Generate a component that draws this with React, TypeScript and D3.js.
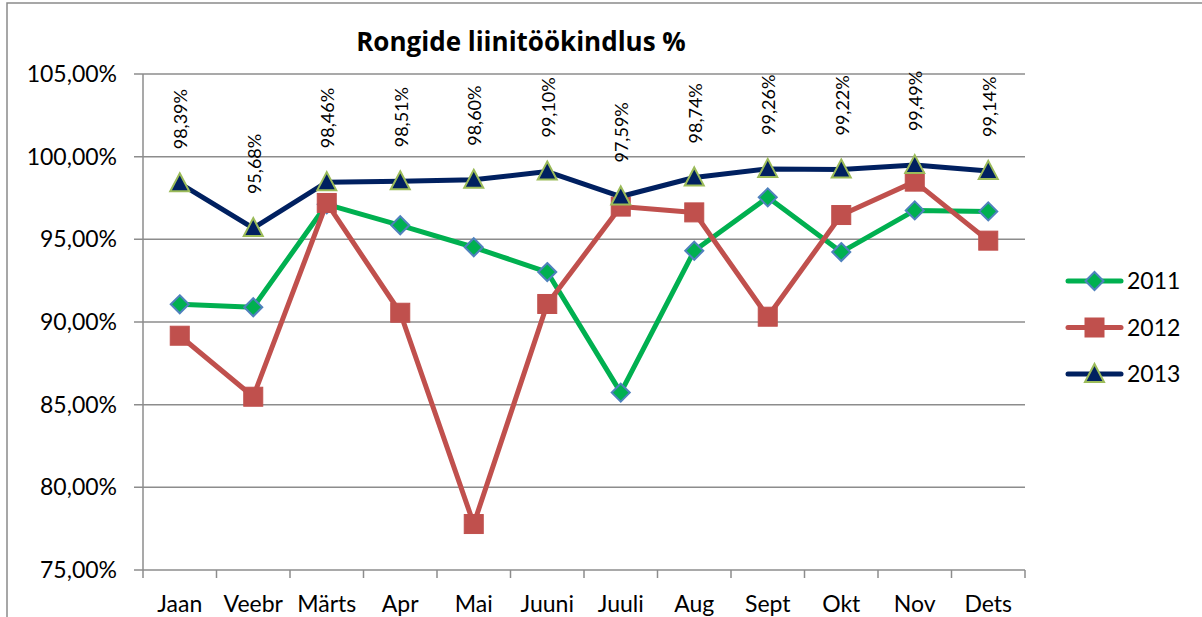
import React, { useEffect, useRef } from "react";
import * as d3 from "d3";

const months = ["Jaan", "Veebr", "Märts", "Apr", "Mai", "Juuni", "Juuli", "Aug", "Sept", "Okt", "Nov", "Dets"];
const values2011 = [91.07, 90.89, 97.12, 95.85, 94.52, 93.02, 85.73, 94.31, 97.54, 94.23, 96.75, 96.69];
const values2012 = [89.17, 85.48, 97.2, 90.56, 77.78, 91.09, 96.98, 96.63, 90.32, 96.47, 98.49, 94.92];
const values2013 = [98.39, 95.68, 98.46, 98.51, 98.6, 99.1, 97.59, 98.74, 99.26, 99.22, 99.49, 99.14];
const yTicks = [75, 80, 85, 90, 95, 100, 105];
const seriesNames = ["2011", "2012", "2013"];
const title = "Rongide liinitöökindlus %";

const FONT = "Lato, 'Open Sans', sans-serif";

export default function App() {
  const ref = useRef<SVGSVGElement | null>(null);

  useEffect(() => {
    const svg = d3.select(ref.current);
    svg.selectAll("*").remove();

    const left = 143, right = 1025, top = 74, bottom = 570;
    const x = d3.scaleBand<string>().domain(months).range([left, right]).padding(0);
    const y = d3.scaleLinear().domain([75, 105]).range([bottom, top]);
    const cx = (m: string) => (x(m) as number) + x.bandwidth() / 2;
    const fmt = (v: number) => v.toFixed(2).replace(".", ",") + "%";

    // outer border
    svg.append("path").attr("d", "M7,620 L7,3 L1210,3").attr("fill", "none").attr("stroke", "#8a8a8a").attr("stroke-width", 1.5);

    // gridlines
    svg.append("g").selectAll("line").data(yTicks.slice(1)).join("line")
      .attr("x1", left - 9).attr("x2", right).attr("y1", d => y(d)).attr("y2", d => y(d))
      .attr("stroke", "#8c8c8c").attr("stroke-width", 1.5);
    // y axis
    svg.append("line").attr("x1", left).attr("x2", left).attr("y1", top).attr("y2", bottom)
      .attr("stroke", "#8c8c8c").attr("stroke-width", 1.5);
    svg.append("line").attr("x1", left - 9).attr("x2", right).attr("y1", bottom).attr("y2", bottom)
      .attr("stroke", "#8c8c8c").attr("stroke-width", 1.5);
    // x ticks
    const edges = months.map(m => x(m) as number).concat([right]);
    svg.append("g").selectAll("line").data(edges).join("line")
      .attr("x1", d => d).attr("x2", d => d).attr("y1", bottom).attr("y2", bottom + 8)
      .attr("stroke", "#8c8c8c").attr("stroke-width", 1.5);

    // y labels
    svg.append("g").selectAll("text").data(yTicks).join("text")
      .attr("x", 117).attr("y", d => y(d)).attr("dy", "0.35em").attr("text-anchor", "end")
      .attr("font-family", FONT).attr("font-size", 23).attr("fill", "#000")
      .text(d => d.toFixed(2).replace(".", ",") + "%");

    // x labels
    svg.append("g").selectAll("text").data(months).join("text")
      .attr("x", d => cx(d)).attr("y", 612).attr("text-anchor", "middle")
      .attr("font-family", FONT).attr("font-size", 23).attr("fill", "#000")
      .text(d => d);

    // title
    svg.append("text").attr("x", 521).attr("y", 51).attr("text-anchor", "middle")
      .attr("font-family", "'Open Sans', sans-serif").attr("font-weight", "bold").attr("font-size", 26).attr("fill", "#000")
      .text(title);

    const series = [
      { name: seriesNames[0], values: values2011, color: "#00B050", shape: "diamond" },
      { name: seriesNames[1], values: values2012, color: "#C0504D", shape: "square" },
      { name: seriesNames[2], values: values2013, color: "#002060", shape: "triangle" },
    ];

    const line = d3.line<number>().x((_, i) => cx(months[i])).y(d => y(d));

    const drawMarker = (g: any, shape: string, px: number, py: number) => {
      if (shape === "diamond") {
        g.append("path").attr("d", `M${px},${py - 9} L${px + 9},${py} L${px},${py + 9} L${px - 9},${py} Z`)
          .attr("fill", "#00B050").attr("stroke", "#4F81BD").attr("stroke-width", 2);
      } else if (shape === "square") {
        g.append("rect").attr("x", px - 9.5).attr("y", py - 9.5).attr("width", 19).attr("height", 19)
          .attr("fill", "#C0504D").attr("stroke", "#C0504D").attr("stroke-width", 1);
      } else {
        g.append("path").attr("d", `M${px},${py - 10} L${px + 9.5},${py + 8} L${px - 9.5},${py + 8} Z`)
          .attr("fill", "#002060").attr("stroke", "#9BBB59").attr("stroke-width", 2);
      }
    };

    series.forEach(s => {
      const g = svg.append("g");
      g.append("path").attr("d", line(s.values) as string).attr("fill", "none")
        .attr("stroke", s.color).attr("stroke-width", 5).attr("stroke-linejoin", "round");
      s.values.forEach((v, i) => drawMarker(g, s.shape, cx(months[i]), y(v)));
    });

    // data labels for 2013
    svg.append("g").selectAll("text").data(values2013).join("text")
      .attr("transform", (d, i) => `translate(${cx(months[i]) + 1},${y(d) - 34}) rotate(-90)`)
      .attr("dy", "0.35em").attr("text-anchor", "start")
      .attr("font-family", FONT).attr("font-size", 18).attr("fill", "#000")
      .text(d => fmt(d));

    // legend
    series.forEach((s, i) => {
      const ly = 281 + i * 46.5;
      const g = svg.append("g");
      g.append("line").attr("x1", 1068).attr("x2", 1121).attr("y1", ly).attr("y2", ly)
        .attr("stroke", s.color).attr("stroke-width", 5).attr("stroke-linecap", "round");
      drawMarker(g, s.shape, 1094.5, ly);
      g.append("text").attr("x", 1127).attr("y", ly).attr("dy", "0.35em")
        .attr("font-family", FONT).attr("font-size", 23).attr("fill", "#000").text(s.name);
    });
  }, []);

  return (
    <svg ref={ref} width={1202} height={617}
      style={{ position: "absolute", left: 0, top: 0, background: "#fff" }} />
  );
}
